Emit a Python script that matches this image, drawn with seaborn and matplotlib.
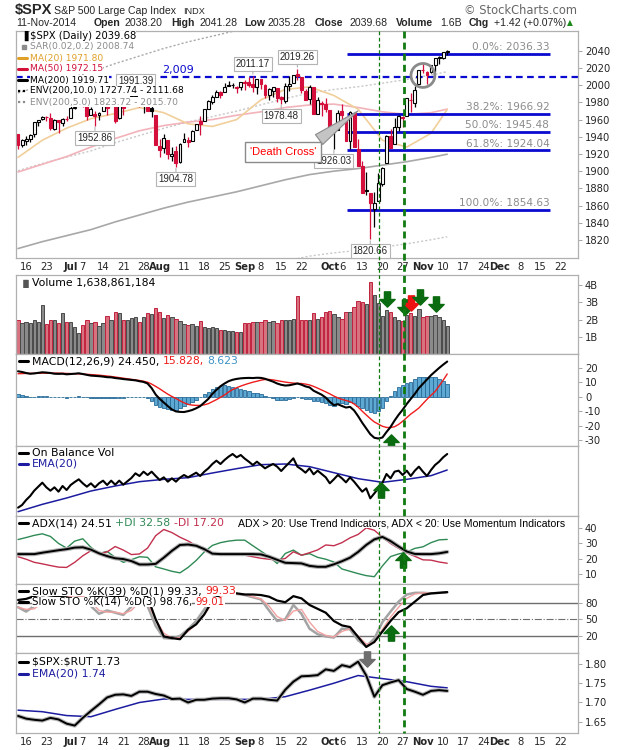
import numpy as np
import pandas as pd
import matplotlib
matplotlib.use("Agg")
import matplotlib.pyplot as plt
import seaborn as sns
from matplotlib.path import Path
from matplotlib.patches import Ellipse
from matplotlib.lines import Line2D
import matplotlib.transforms as mtransforms

# ---------------- data ----------------
holidays = ["2014-07-04", "2014-09-01", "2014-11-27", "2014-12-25"]
calendar = pd.bdate_range("2014-06-12", "2014-12-31")
calendar = calendar[~calendar.isin(pd.to_datetime(holidays))]
dates = calendar[calendar <= "2014-11-11"]

prev_close = 1943.89  # close of 11-Jun

opens = [1943.35, 1930.80, 1934.84, 1937.15, 1942.73, 1957.50, 1960.45, 1962.92, 1961.97, 1949.27, 1959.89, 1956.56, 1960.79,
         1962.29, 1973.06, 1975.88, 1984.22, 1976.39, 1965.10, 1966.67, 1965.76, 1969.86, 1977.36, 1976.35, 1979.75, 1961.54,
         1976.93, 1975.65, 1985.32, 1988.07, 1984.60, 1978.25, 1980.03, 1973.21, 1965.14,
         1929.80, 1926.62, 1936.34, 1917.29, 1923.03, 1910.35, 1933.43, 1935.73, 1935.60, 1947.41, 1958.87, 1958.36, 1972.73,
         1980.46, 1986.82, 1992.60, 1991.74, 1998.59, 2000.54, 1997.42, 1998.45,
         2004.07, 2003.57, 2001.67, 1998.00, 2007.17, 2000.73, 1988.41, 1992.85, 1996.74, 1986.04, 1981.93, 1999.30, 2003.07,
         2012.74, 2009.08, 1992.78, 1983.34, 1997.32, 1966.22, 1978.96, 1978.21,
         1971.44, 1945.83, 1948.12, 1970.01, 1962.36, 1935.55, 1967.68, 1925.63, 1905.65, 1877.11, 1874.18, 1855.95, 1864.91,
         1885.62, 1909.38, 1941.29, 1931.02, 1951.59, 1962.97, 1964.14, 1983.29, 1979.49, 2001.20,
         2018.21, 2015.81, 2015.29, 2023.33, 2032.36, 2032.01, 2038.20]
highs = [1943.35, 1937.30, 1941.15, 1943.69, 1957.74, 1959.87, 1963.91, 1963.74, 1968.17, 1960.83, 1959.89, 1961.47, 1964.24,
         1978.58, 1976.67, 1985.59, 1984.22, 1976.39, 1974.15, 1969.84, 1968.67, 1979.85, 1982.52, 1983.94, 1981.80, 1979.91,
         1976.93, 1986.24, 1989.23, 1991.39, 1984.60, 1981.52, 1984.85, 1978.90, 1965.14,
         1937.35, 1942.92, 1936.34, 1927.91, 1928.89, 1932.38, 1944.90, 1939.65, 1948.41, 1955.23, 1964.04, 1971.99, 1982.57,
         1988.57, 1994.76, 1993.54, 2001.95, 2005.04, 2002.14, 1998.55, 2003.38,
         2006.12, 2009.28, 2011.17, 2007.71, 2007.17, 2001.01, 1996.66, 1997.65, 1996.74, 1987.18, 2002.28, 2010.74, 2012.34,
         2019.26, 2009.08, 1995.41, 1999.79, 1997.32, 1986.37, 1981.28, 1985.17,
         1971.44, 1952.32, 1971.19, 1977.84, 1962.36, 1970.36, 1967.68, 1936.98, 1912.09, 1898.71, 1874.18, 1876.01, 1898.16,
         1905.03, 1942.45, 1949.31, 1961.95, 1965.27, 1964.64, 1985.05, 1991.40, 1999.40, 2018.19,
         2024.46, 2015.98, 2023.77, 2031.61, 2034.26, 2038.70, 2041.28]
lows = [1925.78, 1927.69, 1930.91, 1933.55, 1939.29, 1952.26, 1959.17, 1958.89, 1948.34, 1947.49, 1944.69, 1952.18, 1958.22,
        1962.29, 1972.58, 1975.88, 1974.88, 1959.46, 1965.10, 1952.86, 1959.63, 1969.86, 1965.34, 1975.67, 1955.59, 1960.82,
        1965.77, 1975.65, 1982.44, 1985.79, 1974.37, 1967.31, 1969.95, 1962.42, 1930.67,
        1916.37, 1921.20, 1913.77, 1911.45, 1904.78, 1909.01, 1933.43, 1928.29, 1935.60, 1947.41, 1941.50, 1958.36, 1972.73,
        1977.68, 1986.82, 1984.76, 1991.74, 1998.59, 1996.20, 1990.52, 1994.65,
        1994.85, 1998.14, 1992.54, 1990.10, 1995.60, 1984.61, 1982.99, 1985.93, 1980.26, 1978.48, 1979.06, 1993.29, 2003.07,
        2006.59, 1991.01, 1982.77, 1978.63, 1965.99, 1966.22, 1964.04, 1968.96,
        1941.72, 1926.03, 1948.12, 1958.43, 1934.87, 1925.25, 1927.56, 1906.05, 1874.14, 1871.79, 1820.66, 1835.02, 1864.91,
        1882.30, 1909.38, 1926.83, 1931.02, 1946.27, 1951.37, 1964.14, 1969.04, 1974.75, 2001.20,
        2013.68, 2001.01, 2014.42, 2015.86, 2025.07, 2030.17, 2035.28]
closes = [1930.11, 1936.16, 1937.78, 1941.99, 1956.98, 1959.48, 1962.87, 1962.61, 1949.98, 1959.53, 1957.22, 1960.96, 1960.23,
          1973.32, 1974.62, 1985.44, 1977.65, 1963.71, 1972.83, 1964.68, 1967.57, 1977.10, 1973.28, 1981.57, 1958.12, 1978.22,
          1973.63, 1983.53, 1987.01, 1987.98, 1978.34, 1978.91, 1969.95, 1970.07, 1930.67,
          1925.15, 1938.99, 1920.21, 1920.24, 1909.57, 1931.59, 1936.92, 1933.75, 1946.72, 1955.18, 1955.06, 1971.74, 1981.60,
          1986.51, 1992.37, 1988.40, 1997.92, 2000.02, 2000.12, 1996.74, 2003.37,
          2002.28, 2000.72, 1997.65, 2007.71, 2001.54, 1988.44, 1995.69, 1997.45, 1985.54, 1984.13, 1998.98, 2001.57, 2011.36,
          2010.40, 1994.29, 1982.77, 1998.30, 1965.99, 1982.85, 1977.80, 1972.29,
          1946.16, 1946.17, 1967.90, 1964.82, 1935.10, 1968.89, 1928.21, 1906.13, 1874.74, 1877.70, 1862.49, 1862.76, 1886.76,
          1904.01, 1941.28, 1927.11, 1950.82, 1964.58, 1961.63, 1985.05, 1982.30, 1994.65, 2018.05,
          2017.81, 2012.10, 2023.57, 2031.21, 2031.92, 2038.26, 2039.68]

# volume in billions
volume = [1.95, 1.80, 1.85, 1.80, 1.95, 1.87, 2.83, 1.72, 2.00, 2.00, 1.80, 2.40, 1.87,
          1.87, 1.58, 1.23, 1.67, 1.96, 1.80, 1.87, 1.60, 1.77, 2.20, 2.00, 2.45, 2.38, 1.96, 1.96, 2.10, 2.15, 1.87,
          2.15, 2.35, 2.30, 2.65,
          2.45, 2.10, 2.25, 2.15, 2.05, 1.90, 1.75, 1.70, 1.75, 1.60, 1.90, 1.55, 1.50, 1.55, 1.50, 1.40, 1.40, 1.35,
          1.35, 1.30, 1.25,
          1.77, 1.77, 1.83, 1.83, 1.83, 1.96, 1.87, 1.90, 1.77, 1.96, 2.00, 1.96, 2.05, 3.35, 2.00, 2.00, 2.00, 2.35,
          2.05, 2.15, 2.44,
          2.50, 2.30, 2.15, 2.05, 2.45, 2.45, 2.75, 3.05, 3.00, 2.90, 4.20, 3.40, 2.95, 2.20, 2.55, 2.45, 2.15, 1.95,
          1.90, 2.25, 2.35, 2.20, 2.60,
          2.15, 2.20, 2.20, 2.25, 2.15, 1.95, 1.64]

macd = [17.7, 17.2, 16.5, 16.0, 16.2, 16.6, 17.0, 16.8, 16.5, 16.0, 15.9, 16.0, 15.6,
        15.8, 16.0, 16.3, 15.8, 15.2, 14.7, 14.5, 14.3, 14.0, 13.6, 13.5, 13.0, 12.7, 12.3, 12.0, 11.7, 11.4, 10.8,
        10.3, 9.2, 6.0, 1.5,
        -1.5, -4.0, -6.5, -8.8, -10.2, -10.5, -10.6, -10.0, -9.2, -8.0, -6.5, -4.0, -1.5, 2.0, 4.8, 7.3, 9.2, 10.8,
        11.8, 12.4, 12.8,
        13.0, 13.1, 13.0, 13.2, 13.1, 12.5, 11.5, 10.5, 9.2, 8.3, 7.8, 8.0, 8.6, 9.2, 8.4, 7.2, 6.5, 4.2, 2.8, 1.4, -0.6,
        -3.5, -5.8, -5.2, -6.4, -7.5, -7.0, -9.5, -13.5, -18.0, -22.0, -26.0, -28.5, -29.0, -28.3, -24.5, -21.0,
        -16.5, -12.5, -9.0, -5.0, -1.5, 2.0, 6.0,
        9.0, 12.0, 15.0, 17.5, 20.0, 22.3, 24.45]
signal = [16.0, 16.1, 16.2, 16.2, 16.3, 16.3, 16.4, 16.4, 16.4, 16.4, 16.4, 16.3, 16.2,
          16.1, 16.0, 15.9, 15.8, 15.6, 15.4, 15.2, 15.0, 14.7, 14.4, 14.1, 13.7, 13.3, 12.9, 12.5, 12.1, 11.7, 11.3,
          10.8, 10.1, 8.8, 7.2,
          5.5, 3.6, 1.8, 0.2, -1.2, -2.8, -4.2, -5.3, -5.8, -6.0, -6.0, -5.6, -4.8, -3.4, -2.0, -0.4, 1.2, 3.3, 5.0,
          6.3, 7.4,
          8.4, 9.3, 10.1, 10.8, 11.5, 12.0, 12.0, 11.7, 11.2, 10.7, 10.2, 9.8, 9.5, 9.3, 9.2, 8.8, 8.2, 7.2, 6.0, 4.7, 3.4,
          2.0, 0.5, -0.8, -1.8, -2.6, -3.4, -5.0, -7.2, -10.0, -12.6, -15.2, -17.5, -19.0, -20.5, -21.3, -21.4, -20.8,
          -19.2, -17.0, -14.5, -12.0, -10.0, -7.8,
          -4.8, -1.8, 1.0, 3.6, 7.5, 11.5, 15.83]

# on balance volume, relative scale (panel has no axis labels)
obv = [27, 35, 50, 62, 78, 90, 102, 88, 78, 88, 75, 92, 80,
       95, 104, 112, 100, 90, 100, 88, 100, 108, 95, 108, 96, 108, 96, 106, 116, 130, 122, 135, 125, 135, 122,
       110, 118, 105, 115, 105, 117, 125, 118, 125, 132, 122, 135, 145, 158, 168, 158, 170, 180, 188, 178, 185,
       174, 165, 155, 165, 155, 145, 152, 158, 150, 137, 150, 162, 175, 150, 142, 132, 145, 127, 138, 128, 118,
       100, 112, 125, 115, 103, 118, 105, 90, 75, 85, 55, 70, 85, 102, 128, 115, 135, 138, 125, 138, 122, 138, 150,
       135, 122, 140, 155, 165, 178, 188]

# smooth overlays read every 6th session (plus the last one)
ma20 = [1916, 1936, 1950, 1961, 1967, 1974, 1968, 1955, 1952, 1960, 1983, 1995, 1998, 1988, 1972, 1936, 1928, 1944, 1971.80]
ma50 = [1899, 1908, 1917, 1928, 1938, 1947, 1953, 1957, 1960, 1965, 1969, 1974, 1977, 1978, 1974, 1969, 1966, 1968, 1972.15]
ma200 = [1810, 1818, 1825, 1832, 1841, 1849, 1857, 1864, 1870, 1876, 1883, 1890, 1896, 1900, 1903, 1907, 1911, 1916, 1919.71]
obv_ema = [15, 37, 56, 77, 92, 105, 112, 117, 131, 144, 156, 158, 150, 132, 114, 103, 112, 123, 140]
ratio_ema = [1.680, 1.676, 1.666, 1.663, 1.682, 1.700, 1.709, 1.708, 1.708, 1.708, 1.708, 1.715, 1.732, 1.750,
             1.770, 1.762, 1.754, 1.742, 1.738]

# indicator lines read every 2nd session
adx = [23.1, 23.1, 23.1, 24.0, 24.8, 25.6, 26.3, 27.3, 27.5, 26.0, 23.6, 21.8, 20.4, 19.9, 18.6, 16.4, 16.4, 16.8,
       20.8, 25.2, 29.0, 29.3, 28.5, 26.3, 23.4, 23.1, 23.1, 23.1, 23.1, 23.1, 22.9, 21.4, 19.4, 17.5, 17.3, 17.1,
       15.5, 14.9, 14.9, 16.5, 18.5, 20.8, 24.5, 29.0, 32.6, 34.2, 31.5, 28.0, 24.8, 23.2, 23.1, 23.1, 23.6, 24.51]
plus_di = [32.5, 33.8, 35.2, 36.2, 34.5, 30.0, 27.0, 31.5, 33.0, 27.5, 23.5, 24.8, 21.0, 17.8, 19.5, 21.4, 21.0, 14.9,
           13.5, 12.0, 11.0, 14.5, 19.0, 24.5, 28.7, 30.5, 31.5, 32.1, 32.1, 28.5, 25.0, 21.5, 17.0, 23.5, 25.7, 22.4,
           23.4, 21.0, 19.8, 18.0, 13.5, 12.0, 10.5, 9.2, 8.5, 15.5, 21.5, 23.2, 24.4, 26.8, 27.8, 30.5, 32.3, 32.58]
minus_di = [21.4, 19.8, 17.8, 16.8, 15.7, 14.7, 14.5, 17.8, 22.0, 25.3, 23.5, 24.5, 28.0, 25.7, 22.8, 23.2, 27.0, 35.0,
            39.0, 37.0, 34.0, 31.6, 28.5, 25.3, 23.8, 23.0, 22.4, 22.4, 22.4, 21.4, 20.4, 19.8, 19.2, 20.3, 24.6, 22.4,
            24.0, 25.8, 29.0, 28.5, 30.5, 33.6, 35.8, 40.0, 38.5, 34.0, 30.0, 26.8, 23.9, 21.7, 19.4, 19.2, 18.0, 17.20]
sto39_k = [85, 87, 92, 96, 93, 92, 93, 97, 98, 93, 92, 94, 90, 93, 96, 98, 90, 50, 19, 16, 14, 31, 41, 59, 84, 95, 96,
           97, 95, 95, 94, 91, 84, 81, 92, 88, 76, 69, 62, 47, 39, 36, 18, 0, 9, 28, 47, 63, 70, 82, 94, 97, 98, 99.33]
sto14_k = [72, 64, 74, 90, 85, 88, 92, 95, 90, 74, 60, 66, 62, 58, 73, 88, 74, 38, 16, 15, 20, 32, 47, 68, 88, 95, 97,
           96, 94, 90, 86, 66, 47, 50, 76, 60, 33, 23, 19, 17, 33, 32, 12, 1, 15, 45, 64, 82, 95, 98, 98, 97, 98, 98.76]
sto14_d = [72, 68, 69, 80, 86, 87, 90, 93, 92, 82, 66, 63, 63, 60, 66, 82, 80, 50, 25, 16, 17, 28, 41, 58, 80, 92, 96,
           96, 95, 91, 87, 74, 55, 48, 65, 68, 45, 28, 21, 18, 28, 33, 20, 5, 8, 32, 54, 72, 88, 96, 98, 97, 98, 99.01]
spx_rut = [1.665, 1.658, 1.655, 1.653, 1.660, 1.656, 1.645, 1.640, 1.660, 1.678, 1.695, 1.713, 1.720, 1.721, 1.717,
           1.728, 1.728, 1.722, 1.718, 1.709, 1.710, 1.700, 1.707, 1.707, 1.710, 1.711, 1.711, 1.708, 1.700, 1.710,
           1.710, 1.707, 1.705, 1.733, 1.754, 1.768, 1.769, 1.771, 1.786, 1.782, 1.797, 1.792, 1.806, 1.770, 1.715,
           1.745, 1.752, 1.758, 1.735, 1.728, 1.720, 1.730, 1.732, 1.730]

fib_pct = ["0.0%", "38.2%", "50.0%", "61.8%", "100.0%"]
fib_val = [2036.33, 1966.92, 1945.48, 1924.04, 1854.63]
support = 2009

tick_dates = ["2014-06-16", "2014-06-23", "2014-07-01", "2014-07-07", "2014-07-14", "2014-07-21", "2014-07-28",
              "2014-08-01", "2014-08-11", "2014-08-18", "2014-08-25", "2014-09-02", "2014-09-08", "2014-09-15",
              "2014-09-22", "2014-10-01", "2014-10-06", "2014-10-13", "2014-10-20", "2014-10-27", "2014-11-03",
              "2014-11-10", "2014-11-17", "2014-11-24", "2014-12-01", "2014-12-08", "2014-12-15", "2014-12-22"]
tick_text = ["16", "23", "Jul", "7", "14", "21", "28", "Aug", "11", "18", "25", "Sep", "8", "15", "22", "Oct", "6",
             "13", "20", "27", "Nov", "10", "17", "24", "Dec", "8", "15", "22"]

# ---------------- derived ----------------
n = len(dates)
x = np.arange(n)
x2 = x[::2]
x6 = np.append(x[::6], x[-1])
o, h, l, c = map(np.array, (opens, highs, lows, closes))
pc = np.r_[prev_close, c[:-1]]
up_day = c >= pc
pos_of = {d: i for i, d in enumerate(calendar)}
tick_pos = [pos_of[pd.Timestamp(d)] for d in tick_dates]

RED = "#d40f3c"
GREEN_ARROW = "#0b6b10"

sns.set_theme(style="white")
plt.rcParams["font.family"] = ["DejaVu Sans"]
plt.rcParams["text.parse_math"] = False
plt.rcParams["axes.unicode_minus"] = False

W, H = 620, 750
fig = plt.figure(figsize=(W / 100, H / 100), dpi=100)
fig.patch.set_facecolor("white")

panels = {"price": (31, 258), "vol": (275, 354), "macd": (354, 446), "obv": (446, 516),
          "adx": (516, 584), "sto": (584, 653), "ratio": (653, 733)}
ax = {}
for name, (top, bot) in panels.items():
    a = fig.add_axes([16 / W, 1 - bot / H, 562 / W, (bot - top) / H])
    a.set_xlim(-0.5, 138.3)
    a.grid(False)
    a.yaxis.tick_right()
    a.tick_params(axis="y", length=3, width=0.6, color="#9a9a9a", labelsize=7.2, pad=2)
    a.tick_params(axis="x", length=0)
    a.set_xticks([])
    for s in a.spines.values():
        s.set_color("#b0b0b0")
        s.set_linewidth(0.9)
    ax[name] = a

for name in ("price", "ratio"):
    a = ax[name]
    a.set_xticks(tick_pos)
    a.set_xticklabels(tick_text)
    a.tick_params(axis="x", labelsize=7.2, pad=3)
    for lab, t in zip(a.get_xticklabels(), tick_text):
        if t.isalpha():
            lab.set_fontweight("bold")

# ---------------- price ----------------
ap = ax["price"]
ap.set_ylim(1799, 2063)
ap.set_yticks(np.arange(1820, 2041, 20))
env200 = np.array(ma200)
sns.lineplot(x=x6, y=env200 * 1.10, ax=ap, color="#a8a8a8", lw=1.0, linestyle=(0, (1.5, 1.5)))
sns.lineplot(x=x6, y=env200 * 1.05, ax=ap, color="#c8c8c8", lw=1.0, linestyle=(0, (1.5, 1.5)))
sns.lineplot(x=x6, y=env200 * 0.95, ax=ap, color="#c8c8c8", lw=1.0, linestyle=(0, (1.5, 1.5)))
sns.lineplot(x=x6, y=ma200, ax=ap, color="#a8a8a8", lw=1.2)
sns.lineplot(x=x6, y=ma50, ax=ap, color="#f2b3ba", lw=1.2)
sns.lineplot(x=x6, y=ma20, ax=ap, color="#f1cf9a", lw=1.2)

ap.axhline(support, color="#0a0ad0", lw=1.6, ls=(0, (3, 2)), zorder=2)
ap.text(39.5, support + 2.5, "2,009", color="#0a0ad0", fontsize=8, ha="center", va="bottom")

ap.hlines(fib_val, 81.2, 131.4, color="#0a0ad0", lw=2.0, zorder=2)
for p, v in zip(fib_pct, fib_val):
    ap.text(131.2, v + 2.0, f"{p}: {v:.2f}", color="#8c8c8c", fontsize=7.6, ha="right", va="bottom")

col = np.where(up_day, "black", RED)
face = np.where(c >= o, "white", col)
ap.vlines(x, l, h, colors=col, lw=0.9, zorder=3)
ap.bar(x, np.maximum(np.abs(c - o), 0.4), bottom=np.minimum(o, c), width=0.72,
       color=face, edgecolor=col, linewidth=0.8, zorder=4)

price_labels = [(29, "high"), (58, "high"), (69, "high"), (19, "low"), (39, "low"), (65, "low"), (78, "low"), (87, "low")]
for i, kind in price_labels:
    val = h[i] if kind == "high" else l[i]
    dy = 12 if kind == "high" else -12
    ap.annotate(f"{val:.2f}", xy=(i, val), xytext=(0, dy), textcoords="offset pixels",
                ha="center", va="center", fontsize=7, family="Liberation Sans", zorder=6,
                bbox=dict(boxstyle="square,pad=0.2", fc="white", ec="#b4b4b4", lw=0.8),
                arrowprops=dict(arrowstyle="-", color="#b4b4b4", lw=0.8, shrinkA=0, shrinkB=1))

ap.add_patch(Ellipse((100.0, 2011.3), 5.9, 27.8, fill=False, ec="#8a8a8a", lw=2.0, zorder=6))

ap.annotate("'Death Cross'", xy=(84.5, 1971.9), xytext=(65.4, 1922.6),
            ha="center", va="center", color="red", fontsize=8, family="Liberation Sans", zorder=8,
            bbox=dict(boxstyle="square,pad=0.45", fc="white", ec="#8a8a8a", lw=1.0),
            arrowprops=dict(arrowstyle="wedge,tail_width=1.1,shrink_factor=0.5", fc="#c4c4c4", ec="#8a8a8a",
                            lw=0.8, relpos=(0.9, 1.0)))

# ---------------- volume ----------------
av = ax["vol"]
av.set_ylim(0, 4.58)
av.set_yticks([1, 2, 3, 4])
av.set_yticklabels(["1B", "2B", "3B", "4B"])
vfill = np.where(up_day, "#8a8a8a", "#d8727f")
vedge = np.where(up_day, "#4a4a4a", "#c0233f")
av.bar(x, volume, width=0.82, color=vfill, edgecolor=vedge, linewidth=0.7, zorder=2)

# ---------------- MACD ----------------
am = ax["macd"]
am.set_ylim(-34.2, 29.7)
am.set_yticks([-30, -20, -10, 0, 10, 20])
hist = np.array(macd) - np.array(signal)
am.bar(x, hist, width=0.85, color="#5ea9d3", edgecolor="#2a6b98", linewidth=0.6, zorder=2)
sns.lineplot(x=x, y=signal, ax=am, color="#ee1c1c", lw=1.0, zorder=3)
sns.lineplot(x=x, y=macd, ax=am, color="black", lw=1.5, zorder=4)

# ---------------- OBV ----------------
ao = ax["obv"]
ao.set_ylim(2, 212)
ao.set_yticks([])
sns.lineplot(x=x6, y=obv_ema, ax=ao, color="#1c1ca0", lw=1.1)
sns.lineplot(x=x, y=obv, ax=ao, color="black", lw=1.5)

# ---------------- ADX ----------------
aa = ax["adx"]
aa.set_ylim(3.8, 47.7)
aa.set_yticks([10, 20, 30, 40])
sns.lineplot(x=x2, y=plus_di, ax=aa, color="#2f8a55", lw=1.0)
sns.lineplot(x=x2, y=minus_di, ax=aa, color="#c2304e", lw=1.0)
sns.lineplot(x=x2, y=adx, ax=aa, color="#b0b0b0", lw=3.0)
sns.lineplot(x=x2, y=adx, ax=aa, color="black", lw=1.4)

# ---------------- Slow STO ----------------
ast = ax["sto"]
ast.set_ylim(-11, 114)
ast.set_yticks([20, 50, 80])
ast.axhline(80, color="#6e6e6e", lw=1.0, zorder=1)
ast.axhline(20, color="#6e6e6e", lw=1.0, zorder=1)
ast.axhline(50, color="#6e6e6e", lw=0.8, ls="-.", zorder=1)
sns.lineplot(x=x2, y=sto14_k, ax=ast, color="#a4a4a4", lw=1.8)
sns.lineplot(x=x2, y=sto14_d, ax=ast, color="#f3a0a0", lw=1.0)
sns.lineplot(x=x2, y=sto39_k, ax=ast, color="black", lw=1.6)

# ---------------- $SPX:$RUT ----------------
ar = ax["ratio"]
ar.set_ylim(1.6207, 1.8285)
ar.set_yticks([1.65, 1.70, 1.75, 1.80])
ar.set_yticklabels(["1.65", "1.70", "1.75", "1.80"])
sns.lineplot(x=x6, y=ratio_ema, ax=ar, color="#1c1ca0", lw=1.1)
sns.lineplot(x=x2, y=spx_rut, ax=ar, color="#b8b8b8", lw=3.0)
sns.lineplot(x=x2, y=spx_rut, ax=ar, color="black", lw=1.4)

for a in ax.values():
    if a.get_legend() is not None:
        a.get_legend().remove()

# ---------------- signal arrows ----------------
up_arrow = Path([(-0.2, -0.5), (0.2, -0.5), (0.2, 0.0), (0.5, 0.0), (0.0, 0.5), (-0.5, 0.0), (-0.2, 0.0),
                 (-0.2, -0.5)], closed=True)
down_arrow = Path([(px, -py) for px, py in up_arrow.vertices], closed=True)
marks = [("vol", 91.1, 3.2, down_arrow, GREEN_ARROW), ("vol", 95.6, 2.74, down_arrow, GREEN_ARROW),
         ("vol", 97.1, 2.95, down_arrow, "#ee1111"), ("vol", 99.3, 3.3, down_arrow, GREEN_ARROW),
         ("vol", 103.2, 2.9, down_arrow, GREEN_ARROW), ("macd", 92.0, -31.5, up_arrow, GREEN_ARROW),
         ("obv", 89.7, 80, up_arrow, GREEN_ARROW), ("adx", 95.1, 19.5, up_arrow, GREEN_ARROW),
         ("sto", 92.0, 25.8, up_arrow, GREEN_ARROW), ("ratio", 86.1, 1.8117, down_arrow, "#6e6e6e")]
for name, mx, my, mk, mc in marks:
    ax[name].plot([mx], [my], marker=mk, ms=11, color=mc, mec=mc, ls="none", zorder=7, clip_on=False)

# green vertical lines across all panels
blend = mtransforms.blended_transform_factory(ap.transData, fig.transFigure)
fig.add_artist(Line2D([89.2, 89.2], [1 - 31 / H, 1 - 733 / H], transform=blend, color="#117a11",
                      lw=0.9, ls=(0, (3, 2)), zorder=2))
fig.add_artist(Line2D([95.3, 95.3], [1 - 31 / H, 1 - 733 / H], transform=blend, color="#117a11",
                      lw=2.0, ls=(0, (2.5, 1.5)), zorder=2))

# ---------------- texts ----------------
renderer = fig.canvas.get_renderer()


def row(xp, yp, parts, size=7.8, family="DejaVu Sans", bg=True):
    space = size * 0.32 * 100 / 72
    for part in parts:
        s, color = part[0], part[1]
        weight = part[2] if len(part) > 2 else "normal"
        t = fig.text(xp / W, 1 - yp / H, s.rstrip(), color=color, fontsize=size, family=family,
                     fontweight=weight, ha="left", va="center", zorder=10)
        if bg:
            t.set_bbox(dict(fc="white", ec="none", pad=0.1))
        xp += t.get_window_extent(renderer).width + (len(s) - len(s.rstrip())) * space
    return xp


def dash(x0, yp, color, style="-", lw=2.2):
    fig.add_artist(Line2D([x0 / W, (x0 + 9) / W], [1 - yp / H] * 2, color=color, lw=lw, ls=style,
                          transform=fig.transFigure, zorder=11))


# header
fig.text(15 / W, 1 - 10 / H, "$SPX", fontsize=10.5, fontweight="bold", family="Liberation Sans", va="center")
fig.text(54 / W, 1 - 11 / H, "S&P 500 Large Cap Index", fontsize=7.6, family="Liberation Sans", va="center")
fig.text(183 / W, 1 - 11 / H, "INDX", fontsize=6.6, family="Liberation Sans", va="center")
fig.text(577 / W, 1 - 10 / H, "\u00a9 StockCharts.com", fontsize=8.3, color="#666666", family="DejaVu Sans",
         va="center", ha="right")
header = [(16, "11-Nov-2014", "normal"), (94, "Open", "bold"), (125, "2038.20", "normal"),
          (171, "High", "bold"), (200, "2041.28", "normal"), (244, "Low", "bold"), (268, "2035.28", "normal"),
          (315, "Close", "bold"), (349, "2039.68", "normal"), (396, "Volume", "bold"), (440, "1.6B", "normal"),
          (469, "Chg", "bold"), (494, "+1.42 (+0.07%)", "normal")]
for hx, ht, hw in header:
    fig.text(hx / W, 1 - 23 / H, ht, fontsize=7.6, fontweight=hw, family="Liberation Sans", va="center")
fig.text(567 / W, 1 - 23 / H, "\u25b2", fontsize=5.5, color="#1a8a1a", va="center")

# price legend
psize = 6.6
row(30, 36, [("$SPX (Daily) 2039.68", "black")], size=7.2)
fig.text(20 / W, 1 - 36 / H, "\u2590", fontsize=7, color="black", va="center", zorder=11)
row(30, 47, [("SAR(0.02,0.2) 2008.74", "#8c8c8c")], size=psize)
fig.add_artist(Line2D([24 / W], [1 - 47 / H], marker="s", ms=2.5, color="#8c8c8c", transform=fig.transFigure,
                      zorder=11))
row(30, 58, [("MA(20) 1971.80", "#e0a028")], size=psize)
dash(18, 58, "#e0a028")
row(30, 69, [("MA(50) 1972.15", "#d2103a")], size=psize)
dash(18, 69, "#d2103a")
row(30, 80, [("MA(200) 1919.71", "black")], size=psize)
dash(18, 80, "black")
row(30, 91, [("ENV(200,10.0) 1727.74 - 2111.68", "black")], size=psize)
dash(18, 91, "black", style=(0, (1, 1.2)), lw=1.6)
row(30, 102, [("ENV(200,5.0) 1823.72 - 2015.70", "#8c8c8c")], size=psize)
dash(18, 102, "#8c8c8c", style=(0, (1, 1.2)), lw=1.6)

# panel legends
fig.text(20 / W, 1 - 283 / H, "\u2590\u258c", fontsize=6, color="#555555", va="center", zorder=11)
row(32, 283, [("Volume 1,638,861,184", "black")])
dash(19, 361, "black")
row(32, 361, [("MACD(12,26,9) 24.450, ", "black"), ("15.828, ", "#ee1c1c"), ("8.623", "#3d93c6")])
dash(19, 453, "black")
row(32, 453, [("On Balance Vol", "black")])
dash(19, 464, "#1c1ca0")
row(32, 464, [("EMA(20)", "#1c1ca0")])
dash(19, 523, "black")
row(32, 523, [("ADX(14) 24.51 ", "black"), ("+DI 32.58 ", "#2f8a55"), ("-DI 17.20", "#c2304e")])
row(238, 523, [("ADX > 20: Use Trend Indicators, ADX < 20: Use Momentum Indicators", "black")],
    size=7.6, family="Liberation Sans")
dash(19, 591, "black")
row(32, 591, [("Slow STO %K(39) %D(1) 99.33, ", "black"), ("99.33", "#ee1c1c")])
dash(19, 602, "black")
row(32, 602, [("Slow STO %K(14) %D(3) 98.76, ", "black"), ("99.01", "#ee1c1c")], size=7.4)
dash(19, 662, "black")
row(32, 662, [("$SPX:$RUT 1.73", "black")])
dash(19, 674, "#1c1ca0")
row(32, 674, [("EMA(20) 1.74", "#1c1ca0")])

fig.savefig("out.png", dpi=100, facecolor="white")
